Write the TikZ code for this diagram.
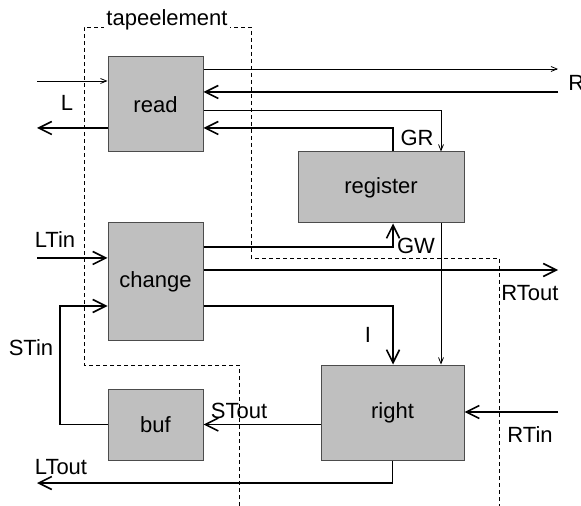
\documentclass[tikz,border=0pt]{standalone}
\usepackage{fontspec}
\setmainfont{Liberation Sans}
\usetikzlibrary{arrows.meta}
\begin{document}
\begin{tikzpicture}[x=0.5pt, y=-0.5pt, font=\fontsize{11}{13}\selectfont,
  block/.style={draw=black!70, fill=black!25, line width=0.5pt, inner sep=0pt},
  fat/.style={line width=0.8pt, -{Straight Barb[length=6.5pt, width=6.5pt]}},
  slim/.style={line width=0.4pt, -{Straight Barb[length=3pt, width=2.5pt]}}]
\useasboundingbox (0, 0) rectangle (581, 506);
% dashed border of the tape element
\draw[dash pattern=on 2pt off 1.5pt, line width=0.4pt] (239, 506) -- (239, 365) -- (84, 365) -- (84, 27) -- (251, 27) -- (251, 258) -- (499, 258) -- (499, 506);
\node[fill=white, inner sep=1pt] (tape) at (167, 20) {tapeelement};
% blocks
\node[block, minimum width=47.5pt, minimum height=47.5pt] (read) at (155.5, 104.5) {read};
\node[block, minimum width=83pt, minimum height=35.5pt] (register) at (381, 187.5) {register};
\node[block, minimum width=47.5pt, minimum height=59pt] (change) at (155.5, 282) {change};
\node[block, minimum width=47.5pt, minimum height=35.5pt] (buf) at (155.5, 424.5) {buf};
\node[block, minimum width=71.5pt, minimum height=47.5pt] (right) at (392.5, 412.5) {right};
% free ends and corners
\coordinate (Lin) at (37, 81);
\coordinate (Lout) at (37, 128);
\coordinate (Rout) at (558, 69);
\coordinate (Rin) at (558, 92);
\coordinate (G) at (441, 110);
\coordinate (gr) at (393, 128);
\coordinate (LTin) at (37, 258);
\coordinate (gw) at (393, 247);
\coordinate (RTout) at (558, 270);
\coordinate (i) at (393, 306);
\coordinate (RTin) at (558, 412);
\coordinate (st) at (60, 306);
\coordinate (LTout) at (37, 483);
% connectors
\draw[slim] (Lin) -- (read.west |- Lin);
\draw[fat] (read.west |- Lout) -- (Lout);
\draw[slim] (read.east |- Rout) -- (Rout);
\draw[fat] (Rin) -- (read.east |- Rin);
\draw[slim] (read.east |- G) -| (register.north -| G);
\draw[fat] (register.north -| gr) |- (read.east |- gr);
\draw[fat] (LTin) -- (change.west |- LTin);
\draw[fat] (change.east |- gw) -| (register.south -| gw);
\draw[fat] (change.east |- RTout) -- (RTout);
\draw[fat] (change.east |- i) -| (right.north -| i);
\draw[slim] (register.south -| G) -- (right.north -| G);
\draw[fat] (RTin) -- (right.east |- RTin);
\draw[fat] (right.west |- buf) -- (buf.east);
\draw[fat] (buf.west) -| (st) -- (change.west |- st);
\draw[fat] (right.south) |- (LTout);
% labels
\node (L) at (67, 103) {L};
\node[anchor=west, inner sep=0pt] (R) at (568, 83) {R};
\node (GR) at (417, 138) {GR};
\node (GW) at (416, 246) {GW};
\node (LTinlabel) at (55, 240) {LTin};
\node (RToutlabel) at (530, 293) {RTout};
\node (I) at (368, 335) {I};
\node (RTinlabel) at (530, 435) {RTin};
\node (STout) at (239, 411) {STout};
\node (STin) at (31, 348) {STin};
\node (LToutlabel) at (61, 467) {LTout};
\end{tikzpicture}
\end{document}
